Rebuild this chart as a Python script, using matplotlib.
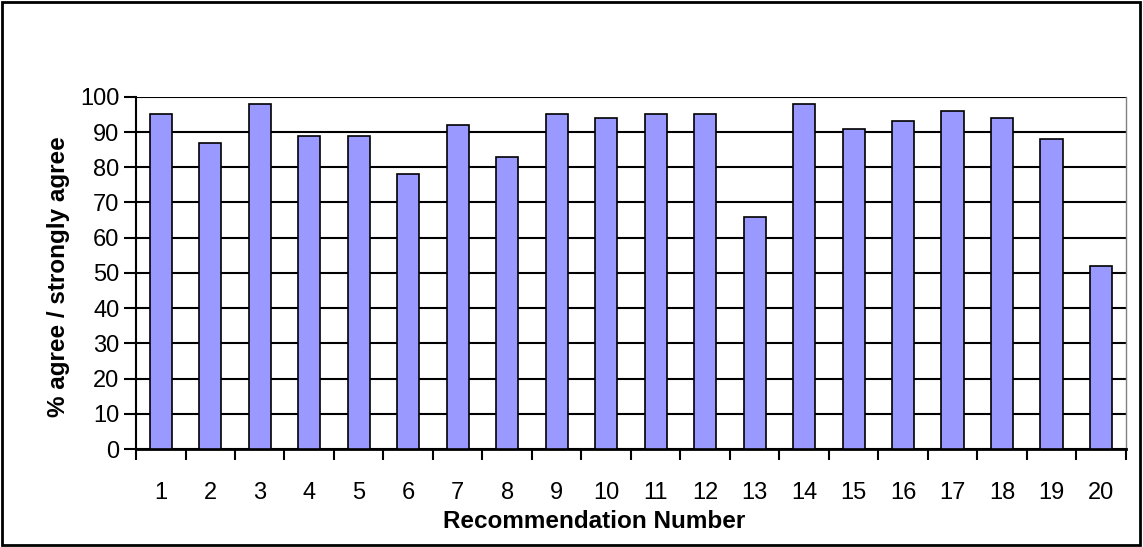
import numpy as np
import matplotlib.pyplot as plt
from matplotlib.patches import Rectangle

plt.rcParams['font.family'] = ['Liberation Sans', 'DejaVu Sans']

# survey results per recommendation
recs = list(range(1, 21))
pct_agree = [95, 87, 98, 89, 89, 78, 92, 83, 95, 94,
             95, 95, 66, 98, 91, 93, 96, 94, 88, 52]
y_ticks = list(range(0, 101, 10))

fig = plt.figure(figsize=(11.43, 5.47), dpi=100)
ax = fig.add_axes([0.119, 0.179, 0.866, 0.644])

ax.bar(recs, pct_agree, width=0.45, color='#9999FF', edgecolor='black',
       linewidth=1.2, zorder=3)

ax.set_xlim(0.5, 20.5)
ax.set_ylim(0, 100)
ax.set_yticks(y_ticks)
ax.yaxis.grid(True, color='black', linewidth=1.5, zorder=1)

# category labels centred under bars, tick marks between categories
ax.set_xticks(recs)
ax.set_xticklabels([str(r) for r in recs], fontsize=17)
ax.tick_params(axis='x', which='major', length=0, pad=24)
ax.set_xticks(np.arange(0.5, 21, 1), minor=True)
ax.tick_params(axis='x', which='minor', length=8, width=1.5, direction='out')
ax.tick_params(axis='y', length=9, width=1.5, labelsize=17, pad=3)

for side in ['top', 'right']:
    ax.spines[side].set_visible(False)
ax.spines['left'].set_linewidth(1.5)
ax.spines['bottom'].set_linewidth(2)
ax.plot([1, 1], [0, 1], transform=ax.transAxes, color='#808080',
        linewidth=1, clip_on=False)

ax.set_xlabel('Recommendation Number', fontsize=17.5, fontweight='bold')
ax.xaxis.set_label_coords(0.4626, -0.174)
ax.set_ylabel('% agree / strongly agree', fontsize=17.5, fontweight='bold')
ax.yaxis.set_label_coords(-0.067, 0.49)

fig.patches.append(Rectangle((0.002, 0.004), 0.995, 0.992, transform=fig.transFigure,
                             fill=False, edgecolor='black', linewidth=2))

fig.savefig('out.png', dpi=100)
